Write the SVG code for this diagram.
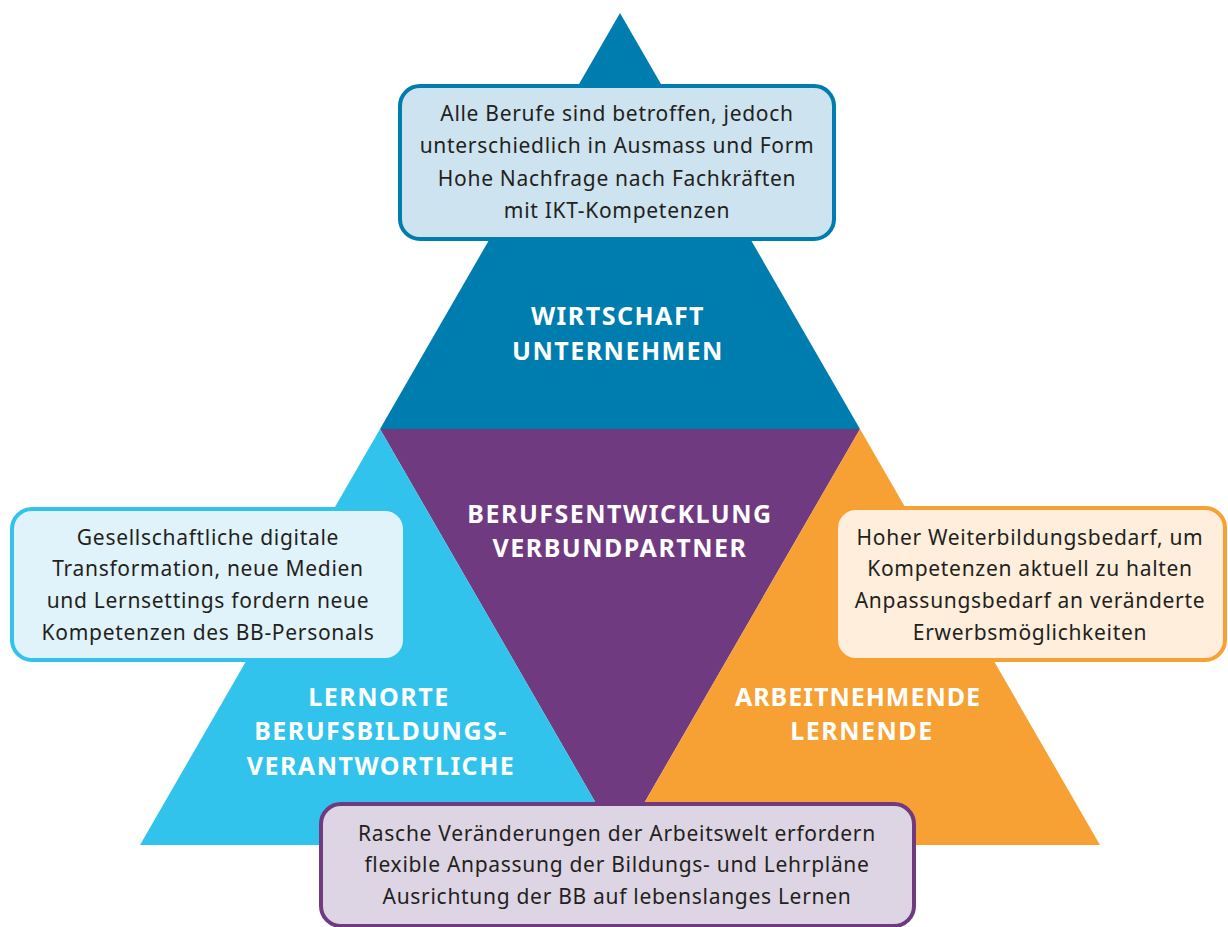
<svg xmlns="http://www.w3.org/2000/svg" width="1228" height="927" viewBox="0 0 1228 927">
<style>
.box{stroke-width:4}
.t{font-family:"Noto Sans","Open Sans",sans-serif;font-size:21px;fill:#231f20;text-anchor:middle;letter-spacing:0.7px}
.h{font-family:"Noto Sans","Open Sans",sans-serif;font-size:25px;font-weight:bold;fill:#ffffff;text-anchor:middle;letter-spacing:1.5px}
</style>
<rect width="1228" height="927" fill="#ffffff"/>
<g id="tri-wirtschaft">
<polygon points="620,13 860,429 380,429" fill="#007daf"/>
<text class="h" x="618" y="325">WIRTSCHAFT</text>
<text class="h" x="618" y="360">UNTERNEHMEN</text>
</g>
<g id="tri-berufsentwicklung">
<polygon points="380,429 860,429 620,845" fill="#6f3a7f"/>
<text class="h" x="620" y="523">BERUFSENTWICKLUNG</text>
<text class="h" x="620" y="557">VERBUNDPARTNER</text>
</g>
<g id="tri-lernorte">
<polygon points="380,429 620,845 140,845" fill="#31c3ec"/>
<text class="h" x="379" y="706">LERNORTE</text>
<text class="h" x="381" y="740">BERUFSBILDUNGS-</text>
<text class="h" x="381" y="775">VERANTWORTLICHE</text>
</g>
<g id="tri-arbeitnehmende">
<polygon points="860,429 1100,845 620,845" fill="#f7a033"/>
<text class="h" x="858" y="706" style="letter-spacing:1px">ARBEITNEHMENDE</text>
<text class="h" x="862" y="740">LERNENDE</text>
</g>
<g id="box-top">
<rect class="box" x="400" y="86" width="434" height="153" rx="20" fill="#cde3ef" stroke="#007daf"/>
<text class="t" x="617" y="121">Alle Berufe sind betroffen, jedoch</text>
<text class="t" x="617" y="153">unterschiedlich in Ausmass und Form</text>
<text class="t" x="617" y="186">Hohe Nachfrage nach Fachkräften</text>
<text class="t" x="617" y="218">mit IKT-Kompetenzen</text>
</g>
<g id="box-left">
<rect class="box" x="12" y="509" width="393" height="151" rx="20" fill="#e0f3fa" stroke="#31c3ec"/>
<text class="t" x="208" y="545">Gesellschaftliche digitale</text>
<text class="t" x="208" y="576">Transformation, neue Medien</text>
<text class="t" x="208" y="608">und Lernsettings fordern neue</text>
<text class="t" x="208" y="640">Kompetenzen des BB-Personals</text>
</g>
<g id="box-right">
<rect class="box" x="836" y="508" width="389" height="152" rx="20" fill="#feeedb" stroke="#f7a033"/>
<text class="t" x="1030" y="545">Hoher Weiterbildungsbedarf, um</text>
<text class="t" x="1030" y="576">Kompetenzen aktuell zu halten</text>
<text class="t" x="1030" y="608">Anpassungsbedarf an veränderte</text>
<text class="t" x="1030" y="640">Erwerbsmöglichkeiten</text>
</g>
<g id="box-bottom">
<rect class="box" x="321" y="804" width="593" height="122" rx="20" fill="#ded5e4" stroke="#6f3a7f"/>
<text class="t" x="617" y="841">Rasche Veränderungen der Arbeitswelt erfordern</text>
<text class="t" x="617" y="872">flexible Anpassung der Bildungs- und Lehrpläne</text>
<text class="t" x="617" y="904">Ausrichtung der BB auf lebenslanges Lernen</text>
</g>
<g id="connectors"></g>
</svg>
